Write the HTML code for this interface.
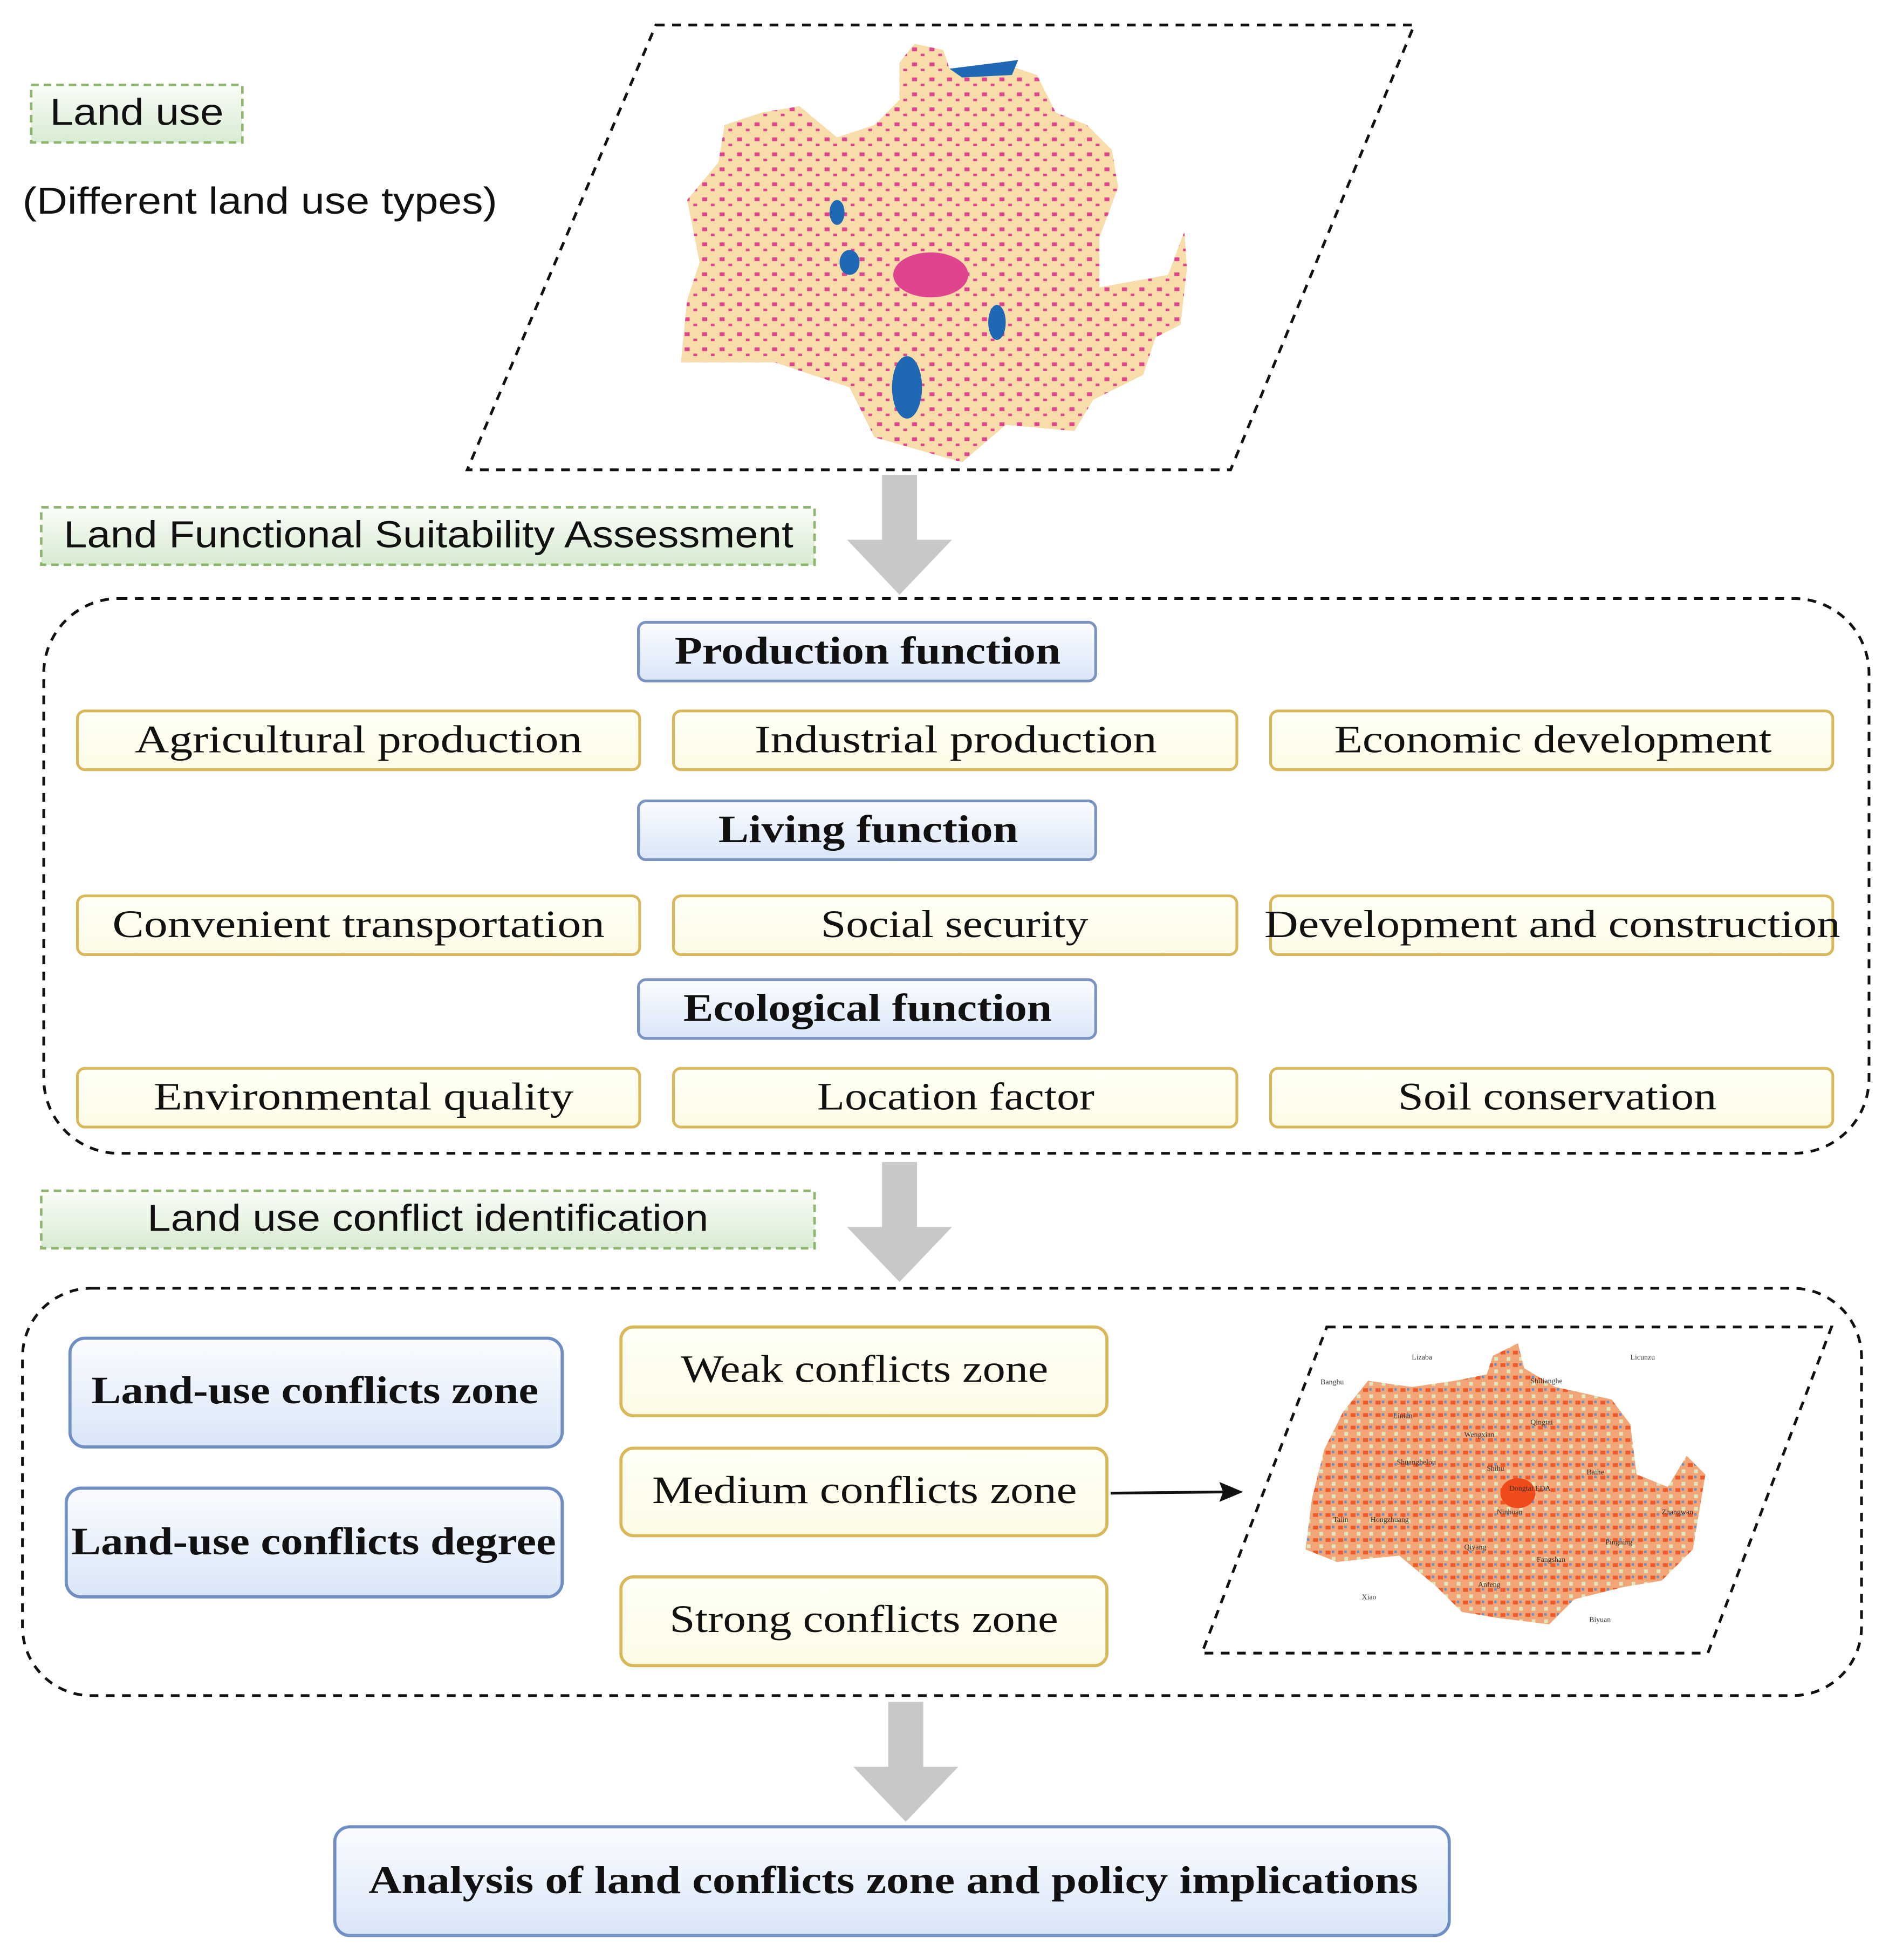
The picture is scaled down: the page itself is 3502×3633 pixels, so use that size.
<!DOCTYPE html>
<html><head><meta charset="utf-8"><style>
html,body{margin:0;padding:0;background:#fff;}
svg{display:block;}
.s{font-family:"Liberation Sans",sans-serif;font-size:30px;fill:#111;}
.r{font-family:"Liberation Serif",serif;font-size:31px;fill:#111;}
.b{font-weight:bold;}
</style></head><body>
<svg width="3502" height="3633" viewBox="0 0 1512 1568.6" preserveAspectRatio="none" xmlns="http://www.w3.org/2000/svg">
<defs>
<linearGradient id="g" x1="0" y1="0" x2="0" y2="1"><stop offset="0" stop-color="#fafdf8"/><stop offset="1" stop-color="#d8ebd2"/></linearGradient>
<linearGradient id="bl" x1="0" y1="0" x2="0" y2="1"><stop offset="0" stop-color="#fbfcff"/><stop offset="1" stop-color="#d9e6f8"/></linearGradient>
<linearGradient id="y" x1="0" y1="0" x2="0" y2="1"><stop offset="0" stop-color="#fffff6"/><stop offset="1" stop-color="#fdfbe6"/></linearGradient>
<pattern id="pk" width="14" height="12" patternUnits="userSpaceOnUse"><rect width="14" height="12" fill="#f8dca9"/><rect x="2" y="2" width="4" height="3" fill="#e0448e"/><rect x="9" y="7" width="3" height="2" fill="#e0448e"/></pattern>
<pattern id="or" width="10" height="10" patternUnits="userSpaceOnUse"><rect width="10" height="10" fill="#f2a577"/><rect x="1" y="1" width="4" height="3" fill="#ee5a2a"/><rect x="6" y="6" width="3" height="3" fill="#dde8c0"/><rect x="6" y="1" width="2" height="2" fill="#6a8fc8"/></pattern>
</defs>

<rect x="25" y="68" width="169" height="46" fill="url(#g)" stroke="#8db56e" stroke-width="2" stroke-dasharray="6,4"/>
<text class="s" x="40" y="100" textLength="139" lengthAdjust="spacingAndGlyphs">Land use</text>
<text class="s" x="18" y="171" textLength="380" lengthAdjust="spacingAndGlyphs">(Different land use types)</text>

<polygon points="525,20 1132,20 985,376 374,376" fill="none" stroke="#111" stroke-width="2.2" stroke-dasharray="7,6"/>
<polygon points="720,50 732,35 755,40 760,55 800,50 830,60 845,90 870,100 890,120 895,150 880,190 880,230 935,220 948,185 950,215 945,260 925,270 915,300 875,320 860,345 805,340 770,370 735,360 700,350 680,310 650,300 620,290 590,290 545,290 550,240 560,210 550,160 575,130 580,100 610,90 640,85 670,110 700,100 720,80" fill="url(#pk)"/>
<ellipse cx="745" cy="220" rx="30" ry="18" fill="#e0448e"/>
<ellipse cx="726" cy="310" rx="12" ry="25" fill="#1f68b4"/>
<ellipse cx="798" cy="258" rx="7" ry="14" fill="#1f68b4"/>
<ellipse cx="680" cy="210" rx="8" ry="10" fill="#1f68b4"/>
<ellipse cx="670" cy="170" rx="6" ry="10" fill="#1f68b4"/>
<path d="M760 55 L800 50 L815 48 L810 60 L770 62Z" fill="#1f68b4"/>

<rect x="706" y="380" width="28" height="53" fill="#c8c8c8"/>
<polygon points="678,432 762,432 720,476" fill="#c8c8c8"/>

<rect x="33" y="406" width="619" height="46" fill="url(#g)" stroke="#8db56e" stroke-width="2" stroke-dasharray="6,4"/>
<text class="s" x="51" y="438" textLength="584" lengthAdjust="spacingAndGlyphs">Land Functional Suitability Assessment</text>

<rect x="35" y="479" width="1461" height="444" rx="60" fill="none" stroke="#111" stroke-width="2.2" stroke-dasharray="7,6"/>

<g stroke="#7a93c0" stroke-width="2.2">
<rect x="511" y="498" width="366" height="47" rx="6" fill="url(#bl)"/>
<rect x="511" y="641" width="366" height="47" rx="6" fill="url(#bl)"/>
<rect x="511" y="784" width="366" height="47" rx="6" fill="url(#bl)"/>
</g>
<g lengthAdjust="spacingAndGlyphs">
<text class="r b" x="540" y="531" textLength="309" lengthAdjust="spacingAndGlyphs">Production function</text>
<text class="r b" x="575" y="674" textLength="240" lengthAdjust="spacingAndGlyphs">Living function</text>
<text class="r b" x="547" y="817" textLength="295" lengthAdjust="spacingAndGlyphs">Ecological function</text>
</g>

<g stroke="#d9b85a" stroke-width="2.2" fill="url(#y)">
<rect x="62" y="569" width="450" height="47" rx="6"/>
<rect x="539" y="569" width="451" height="47" rx="6"/>
<rect x="1017" y="569" width="450" height="47" rx="6"/>
<rect x="62" y="717" width="450" height="47" rx="6"/>
<rect x="539" y="717" width="451" height="47" rx="6"/>
<rect x="1017" y="717" width="450" height="47" rx="6"/>
<rect x="62" y="855" width="450" height="47" rx="6"/>
<rect x="539" y="855" width="451" height="47" rx="6"/>
<rect x="1017" y="855" width="450" height="47" rx="6"/>
</g>
<text class="r" x="108" y="602" textLength="358" lengthAdjust="spacingAndGlyphs">Agricultural production</text>
<text class="r" x="604" y="602" textLength="322" lengthAdjust="spacingAndGlyphs">Industrial production</text>
<text class="r" x="1068" y="602" textLength="350" lengthAdjust="spacingAndGlyphs">Economic development</text>
<text class="r" x="90" y="750" textLength="394" lengthAdjust="spacingAndGlyphs">Convenient transportation</text>
<text class="r" x="657" y="750" textLength="214" lengthAdjust="spacingAndGlyphs">Social security</text>
<text class="r" x="1012" y="750" textLength="461" lengthAdjust="spacingAndGlyphs">Development and construction</text>
<text class="r" x="123" y="888" textLength="336" lengthAdjust="spacingAndGlyphs">Environmental quality</text>
<text class="r" x="654" y="888" textLength="222" lengthAdjust="spacingAndGlyphs">Location factor</text>
<text class="r" x="1119" y="888" textLength="255" lengthAdjust="spacingAndGlyphs">Soil conservation</text>

<rect x="706" y="930" width="28" height="53" fill="#c8c8c8"/>
<polygon points="678,982 762,982 720,1026" fill="#c8c8c8"/>

<rect x="33" y="953" width="619" height="46" fill="url(#g)" stroke="#8db56e" stroke-width="2" stroke-dasharray="6,4"/>
<text class="s" x="118" y="985" textLength="449" lengthAdjust="spacingAndGlyphs">Land use conflict identification</text>

<rect x="18" y="1031" width="1472" height="326" rx="55" fill="none" stroke="#111" stroke-width="2.2" stroke-dasharray="7,6"/>

<g stroke="#6f8fc4" stroke-width="2.5" fill="url(#bl)">
<rect x="56" y="1071" width="394" height="87" rx="12"/>
<rect x="53" y="1191" width="397" height="87" rx="12"/>
</g>
<text class="r b" x="73" y="1123" textLength="358" lengthAdjust="spacingAndGlyphs">Land-use conflicts zone</text>
<text class="r b" x="57" y="1244" textLength="388" lengthAdjust="spacingAndGlyphs">Land-use conflicts degree</text>

<g stroke="#d9b85a" stroke-width="2.5" fill="url(#y)">
<rect x="497" y="1062" width="389" height="71" rx="10"/>
<rect x="497" y="1159" width="389" height="70" rx="10"/>
<rect x="497" y="1262" width="389" height="71" rx="10"/>
</g>
<text class="r" x="545" y="1106" textLength="294" lengthAdjust="spacingAndGlyphs">Weak conflicts zone</text>
<text class="r" x="522" y="1203" textLength="340" lengthAdjust="spacingAndGlyphs">Medium conflicts zone</text>
<text class="r" x="536" y="1306" textLength="311" lengthAdjust="spacingAndGlyphs">Strong conflicts zone</text>

<line x1="889" y1="1195" x2="980" y2="1194" stroke="#111" stroke-width="2.2"/>
<polygon points="995,1194 976,1186 979,1194 976,1202" fill="#111"/>

<polygon points="1062,1062 1466,1062 1367,1323 962,1323" fill="none" stroke="#111" stroke-width="2.2" stroke-dasharray="7,6"/>
<polygon points="1195,1085 1215,1075 1220,1095 1245,1110 1290,1120 1305,1140 1310,1180 1335,1190 1350,1165 1365,1180 1355,1240 1330,1265 1300,1270 1260,1280 1240,1300 1200,1295 1170,1290 1150,1270 1120,1245 1070,1250 1045,1240 1050,1200 1060,1160 1075,1130 1095,1105 1130,1110 1165,1105 1190,1100" fill="url(#or)"/>
<ellipse cx="1215" cy="1195" rx="14" ry="12" fill="#ee4a1a"/>
<g font-family="Liberation Serif,serif" font-size="6" fill="#333">
<text x="1115" y="1135">Linian</text><text x="1225" y="1107">Shilianghe</text><text x="1225" y="1140">Qingtai</text>
<text x="1172" y="1150">Wengxian</text><text x="1118" y="1172">Shuanghelou</text><text x="1190" y="1177">Shihu</text>
<text x="1208" y="1193">Dongtai EDA</text><text x="1270" y="1180">Baihe</text><text x="1330" y="1212">Zhangwan</text>
<text x="1067" y="1218">Taiin</text><text x="1097" y="1218">Hongzhuang</text><text x="1198" y="1212">Ninhuan</text>
<text x="1172" y="1240">Qiyang</text><text x="1285" y="1236">Pingning</text><text x="1230" y="1250">Fangshan</text>
<text x="1183" y="1270">Anfeng</text><text x="1130" y="1088">Lizaba</text><text x="1305" y="1088">Licunzu</text>
<text x="1057" y="1108">Banghu</text><text x="1090" y="1280">Xiao</text><text x="1272" y="1298">Biyuan</text>
</g>

<rect x="711" y="1362" width="28" height="53" fill="#c8c8c8"/>
<polygon points="683,1414 767,1414 725,1458" fill="#c8c8c8"/>

<rect x="268" y="1462" width="892" height="87" rx="12" fill="url(#bl)" stroke="#6f8fc4" stroke-width="2.5"/>
<text class="r b" x="295" y="1515" textLength="840" lengthAdjust="spacingAndGlyphs">Analysis of land conflicts zone and policy implications</text>
</svg>
</body></html>
